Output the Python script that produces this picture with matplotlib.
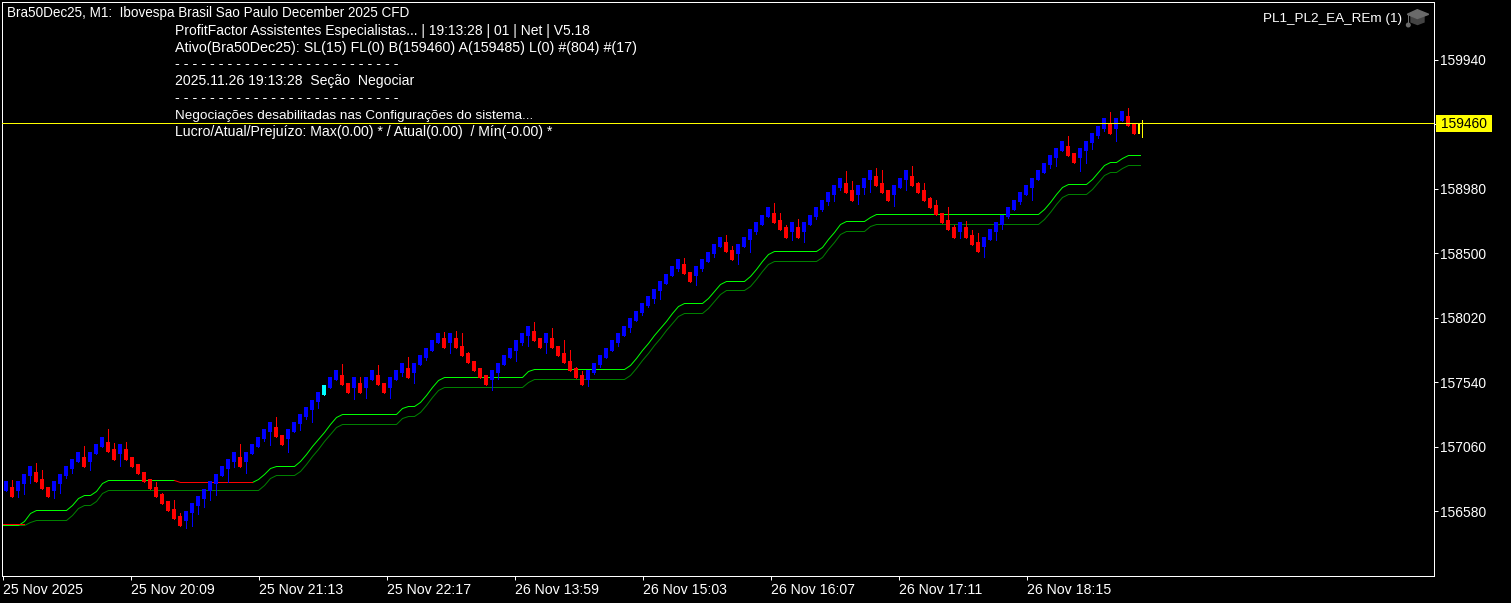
import numpy as np
import matplotlib
matplotlib.use('Agg')
import matplotlib.pyplot as plt
from matplotlib.patches import Polygon, Rectangle, Circle

nan = float('nan')

opens = [
    156732, 156760, 156732, 156785, 156844, 156874, 156819, 156760, 156732, 156785,
    156844, 156896, 156951, 156983, 156951, 157008, 157060, 157097, 157043, 157008,
    157043, 156983, 156933, 156874, 156819, 156760, 156710, 156656, 156598, 156546,
    156509, 156566, 156621, 156670, 156730, 156785, 156844, 156896, 156948, 156983,
    156948, 157008, 157060, 157120, 157172, 157206, 157149, 157120, 157172, 157231,
    157281, 157335, 157395, 157447, 157501, 157559, 157596, 157536, 157501, 157536,
    157501, 157559, 157596, 157536, 157501, 157559, 157611, 157648, 157611, 157670,
    157722, 157778, 157834, 157871, 157834, 157871, 157812, 157760, 157700, 157648,
    157596, 157559, 157611, 157670, 157722, 157778, 157834, 157886, 157923, 157871,
    157834, 157871, 157812, 157760, 157700, 157648, 157596, 157559, 157611, 157670,
    157722, 157778, 157834, 157886, 157946, 157998, 158057, 158109, 158161, 158221,
    158273, 158329, 158385, 158422, 158362, 158329, 158385, 158437, 158496, 158548,
    158586, 158526, 158496, 158548, 158604, 158660, 158712, 158772, 158801, 158749,
    158697, 158660, 158697, 158660, 158712, 158772, 158824, 158880, 158935, 158987,
    159025, 158973, 158935, 158987, 159047, 159077, 159025, 158973, 158935, 158987,
    159047, 159077, 159025, 158973, 158913, 158861, 158801, 158749, 158697, 158660,
    158697, 158638, 158586, 158548, 158604, 158660, 158712, 158772, 158824, 158880,
    158935, 158987, 159047, 159099, 159155, 159211, 159263, 159300, 159248, 159211,
    159263, 159322, 159374, 159430, 159464, 159430, 159486, 159523, 159464, 159389,
]
closes = [
    156804, 156688, 156804, 156859, 156918, 156799, 156747, 156688, 156804, 156859,
    156918, 156968, 157023, 156911, 157023, 157082, 157132, 157023, 156963, 157082,
    156963, 156911, 156859, 156799, 156747, 156688, 156636, 156584, 156524, 156472,
    156584, 156641, 156695, 156745, 156804, 156859, 156918, 156968, 157023, 156911,
    157023, 157082, 157132, 157191, 157244, 157134, 157075, 157191, 157246, 157305,
    157355, 157410, 157469, 157521, 157578, 157633, 157518, 157462, 157578, 157462,
    157578, 157633, 157518, 157462, 157578, 157633, 157685, 157573, 157685, 157745,
    157797, 157856, 157908, 157793, 157908, 157793, 157737, 157685, 157626, 157573,
    157518, 157633, 157685, 157745, 157797, 157856, 157908, 157960, 157849, 157793,
    157908, 157793, 157737, 157685, 157626, 157573, 157518, 157633, 157685, 157745,
    157797, 157856, 157908, 157960, 158020, 158072, 158132, 158184, 158236, 158295,
    158347, 158407, 158459, 158344, 158288, 158407, 158459, 158511, 158571, 158623,
    158511, 158452, 158571, 158623, 158682, 158734, 158787, 158846, 158727, 158675,
    158619, 158734, 158619, 158734, 158787, 158846, 158898, 158958, 159010, 159062,
    158950, 158894, 159010, 159062, 159121, 159002, 158950, 158894, 159010, 159062,
    159121, 159002, 158950, 158894, 158838, 158786, 158727, 158675, 158619, 158734,
    158619, 158563, 158511, 158623, 158682, 158734, 158786, 158846, 158898, 158958,
    159010, 159062, 159121, 159173, 159233, 159285, 159337, 159226, 159170, 159285,
    159337, 159397, 159449, 159508, 159389, 159508, 159560, 159449, 159389, 159460,
]
highs = [
    156804, 156814, 156804, 156859, 156918, 156938, 156889, 156760, 156804, 156859,
    156918, 156968, 157023, 157067, 157023, 157082, 157132, 157194, 157090, 157082,
    157097, 156983, 156933, 156874, 156819, 156799, 156718, 156656, 156665, 156569,
    156584, 156641, 156695, 156745, 156804, 156859, 156918, 156968, 157023, 157082,
    157023, 157082, 157132, 157191, 157244, 157283, 157149, 157191, 157246, 157305,
    157355, 157410, 157469, 157521, 157578, 157633, 157678, 157536, 157578, 157581,
    157578, 157633, 157670, 157536, 157578, 157633, 157685, 157730, 157685, 157745,
    157797, 157856, 157908, 157916, 157908, 157923, 157908, 157767, 157700, 157648,
    157596, 157633, 157685, 157745, 157797, 157856, 157908, 157960, 157990, 157871,
    157908, 157946, 157812, 157856, 157782, 157655, 157626, 157633, 157685, 157745,
    157797, 157856, 157908, 157960, 158020, 158072, 158132, 158184, 158236, 158295,
    158347, 158407, 158459, 158466, 158362, 158407, 158459, 158511, 158571, 158623,
    158638, 158556, 158571, 158623, 158682, 158734, 158787, 158846, 158876, 158801,
    158712, 158734, 158757, 158734, 158787, 158846, 158898, 158958, 159010, 159062,
    159114, 159040, 159010, 159062, 159121, 159136, 159121, 158973, 159010, 159062,
    159121, 159151, 159032, 159025, 158920, 158898, 158801, 158846, 158712, 158734,
    158742, 158675, 158652, 158623, 158682, 158734, 158786, 158846, 158898, 158958,
    159010, 159062, 159121, 159173, 159233, 159285, 159337, 159374, 159248, 159285,
    159337, 159397, 159449, 159508, 159553, 159508, 159560, 159583, 159464, 159494,
]
lows = [
    156732, 156688, 156685, 156710, 156790, 156799, 156747, 156688, 156680, 156718,
    156829, 156864, 156951, 156911, 156889, 157008, 157060, 157023, 156963, 156918,
    156963, 156911, 156859, 156799, 156747, 156688, 156636, 156584, 156524, 156472,
    156457, 156472, 156561, 156613, 156665, 156703, 156844, 156799, 156911, 156911,
    156866, 157008, 157060, 157102, 157075, 157134, 157075, 157023, 157172, 157186,
    157268, 157246, 157350, 157447, 157501, 157559, 157518, 157462, 157417, 157462,
    157425, 157559, 157518, 157462, 157425, 157559, 157588, 157573, 157536, 157670,
    157707, 157778, 157834, 157793, 157760, 157793, 157737, 157685, 157626, 157573,
    157518, 157484, 157566, 157670, 157722, 157700, 157819, 157812, 157849, 157793,
    157760, 157793, 157737, 157685, 157626, 157573, 157518, 157514, 157603, 157655,
    157722, 157778, 157812, 157886, 157916, 157998, 158042, 158102, 158132, 158161,
    158273, 158329, 158370, 158344, 158288, 158265, 158370, 158437, 158474, 158548,
    158511, 158452, 158422, 158548, 158511, 158645, 158712, 158772, 158727, 158675,
    158619, 158600, 158619, 158586, 158712, 158757, 158816, 158861, 158891, 158973,
    158950, 158894, 158868, 158943, 158958, 159002, 158950, 158894, 158853, 158987,
    158973, 159002, 158950, 158894, 158838, 158786, 158727, 158675, 158619, 158615,
    158619, 158563, 158511, 158474, 158604, 158600, 158682, 158764, 158824, 158868,
    158935, 158898, 159047, 159099, 159136, 159151, 159263, 159226, 159170, 159114,
    159171, 159278, 159360, 159412, 159389, 159337, 159486, 159449, 159389, 159367,
]

# stop lines, starting one bar left of the first candle (cut off by the frame)
upper_stop = [
    156477, 156477, 156477, 156477, 156509, 156569, 156589, 156589, 156589, 156589,
    156589, 156589, 156626, 156682, 156700, 156700, 156732, 156792, 156812, 156812,
    156812, 156812, 156812, 156812, 156812, 156812, 156812, 156812, 156812, 156812,
    nan, nan, nan, nan, nan, nan, nan, nan, nan, nan, nan, nan,
    156797, 156822, 156859, 156904, 156916, 156916, 156916, 156916,
    156953, 157009, 157064, 157119, 157175, 157230, 157285,
    157303, 157303, 157303, 157303, 157303, 157303, 157303, 157303, 157303, 157303,
    157350, 157363, 157363, 157393, 157449, 157504, 157560,
    157579, 157579, 157579, 157579, 157579, 157579, 157579, 157579, 157579, 157579,
    157579, 157579, 157579, 157579, 157622,
    157638, 157638, 157638, 157638, 157638, 157638, 157638, 157638, 157638, 157638,
    157638, 157638, 157638, 157638, 157638, 157638,
    157669, 157724, 157779, 157835, 157890, 157946, 158001, 158056, 158111,
    158129, 158129, 158129, 158129, 158166, 158221, 158275,
    158293, 158293, 158293, 158293, 158330, 158386, 158442, 158498,
    158516, 158516, 158516, 158516, 158516, 158516, 158516, 158516,
    158548, 158606, 158663, 158720, 158740, 158740, 158740, 158740, 158775,
    158792, 158792, 158792, 158792, 158792, 158792, 158792, 158792, 158792, 158792,
    158792, 158792, 158792, 158792, 158792, 158792, 158792, 158792, 158792, 158792,
    158792, 158792, 158792, 158792, 158792, 158792, 158792, 158792,
    158829, 158885, 158941, 158996, 159015, 159015, 159015, 159015,
    159051, 159106, 159161, 159179, 159179, 159211, 159231, 159231, 159231,
]
lower_stop = [
    156477, 156477, 156477, 156477, 156477, 156503, 156514, 156514, 156514, 156514,
    156514, 156514, 156552, 156607, 156626, 156626, 156658, 156718,
    156738, 156738, 156738, 156738, 156738, 156738, 156738, 156738, 156738, 156738,
    156738, 156738, 156738, 156738, 156738, 156738, 156738, 156738, 156738, 156738,
    156738, 156738, 156738, 156738, 156738, 156738,
    156775, 156830, 156849, 156849, 156849, 156849,
    156883, 156935, 156990, 157045, 157101, 157156, 157211,
    157229, 157229, 157229, 157229, 157229, 157229, 157229, 157229, 157229, 157229,
    157276, 157288, 157288, 157319, 157375, 157430, 157486,
    157504, 157504, 157504, 157504, 157504, 157504, 157504, 157504, 157504, 157504,
    157504, 157504, 157504, 157504, 157547,
    157564, 157564, 157564, 157564, 157564, 157564, 157564, 157564, 157564, 157564,
    157564, 157564, 157564, 157564, 157564, 157564,
    157595, 157650, 157705, 157761, 157816, 157872, 157927, 157982, 158037,
    158055, 158055, 158055, 158055, 158092, 158147, 158201,
    158226, 158226, 158226, 158226, 158256, 158312, 158368, 158424,
    158442, 158442, 158442, 158442, 158442, 158442, 158442, 158442,
    158474, 158532, 158589, 158646, 158665, 158665, 158665, 158665, 158701,
    158717, 158717, 158717, 158717, 158717, 158717, 158717, 158717, 158717, 158717,
    158717, 158717, 158717, 158717, 158717, 158717, 158717, 158717, 158717, 158717,
    158717, 158717, 158717, 158717, 158717, 158717, 158717, 158717,
    158755, 158811, 158867, 158922, 158941, 158941, 158941, 158941,
    158977, 159032, 159087, 159104, 159104, 159137, 159156, 159156, 159156,
]

# red parts of the upper stop line: first bar of each run, then its values
red_run_1_start = -1
red_run_1 = [156485, 156485, 156485, 156485, 156485]
red_run_2_start = 28
red_run_2 = [156812, 156803, 156797, 156797, 156797, 156797, 156797, 156797,
             156797, 156797, 156797, 156797, 156797, 156797]

special_bars = {53: '#00ffff', 189: '#ffff00'}
bid = 159460
price_ticks = [159940, 158980, 158500, 158020, 157540, 157060, 156580]
time_labels = ['25 Nov 2025', '25 Nov 20:09', '25 Nov 21:13', '25 Nov 22:17', '26 Nov 13:59',
               '26 Nov 15:03', '26 Nov 16:07', '26 Nov 17:11', '26 Nov 18:15']
info_lines = [
    'ProfitFactor Assistentes Especialistas... | 19:13:28 | 01 | Net | V5.18',
    'Ativo(Bra50Dec25): SL(15) FL(0) B(159460) A(159485) L(0) #(804) #(17)',
    '- - - - - - - - - - - - - - - - - - - - - - - - - -',
    '2025.11.26 19:13:28  Seção  Negociar',
    '- - - - - - - - - - - - - - - - - - - - - - - - - -',
    'Negociações desabilitadas nas Configurações do sistema...',
    'Lucro/Atual/Prejuízo: Max(0.00) * / Atual(0.00)  / Mín(-0.00) *',
]
title = 'Bra50Dec25, M1:  Ibovespa Brasil Sao Paulo December 2025 CFD'

W, H = 1511, 603
PX = 0.72  # one pixel in points at dpi 100
plt.rcParams['font.family'] = ['Liberation Sans', 'DejaVu Sans']
FONT = 9.9
# each line sized to its width on the original
info_sizes = [9.97, 10.25, 10.4, 10.1, 10.4, 9.7, 10.2]

fig = plt.figure(figsize=(W / 100, H / 100), dpi=100, facecolor='black')
left, right, top, bottom = 2, 1433.5, 2, 576
ax = fig.add_axes([left / W, 1 - bottom / H, (right - left) / W, (bottom - top) / H], facecolor='black')

# px = 6 + 6 * bar, price = 160386.5 - 7.442 * py
ax.set_xlim((left - 6) / 6, (right - 6) / 6)
ax.set_ylim(160386.5 - 7.442 * bottom, 160386.5 - 7.442 * top)

# stops, snapped to whole pixels so the flats stay one row thick
line_style = dict(lw=PX, snap=True, zorder=2)
stop_x = np.arange(len(upper_stop)) - 1
ax.plot(np.arange(len(lower_stop)) - 1, lower_stop, color='#008000', **line_style)
ax.plot(stop_x, upper_stop, color='#00ff00', **line_style)
for start, run in [(red_run_1_start, red_run_1), (red_run_2_start, red_run_2)]:
    ax.plot(np.arange(len(run)) + start, run, color='#ff0000', **line_style)

# candles
for i in range(len(opens)):
    col = special_bars.get(i, '#0000ff' if closes[i] >= opens[i] else '#ff0000')
    if i == 189:
        # the live bar is drawn as a narrow body with the wick set off to its right
        ax.bar(i - 0.17, abs(closes[i] - opens[i]), bottom=min(opens[i], closes[i]), width=0.33,
               color=col, linewidth=0, zorder=3)
        ax.vlines(i + 0.25, lows[i], highs[i], color=col, lw=PX, antialiased=False, zorder=3)
        continue
    ax.vlines(i + 0.08, lows[i], highs[i], color=col, lw=PX, antialiased=False, zorder=3)
    ax.bar(i, abs(closes[i] - opens[i]), bottom=min(opens[i], closes[i]), width=0.75,
           color=col, linewidth=0, zorder=3)

# bid line sits a pixel above its tick on the original
ax.axhline(bid + 12, color='#ffff00', lw=PX, antialiased=False, snap=True, zorder=4)

for s in ax.spines.values():
    s.set_color('white')
    s.set_linewidth(PX)

ax.yaxis.tick_right()
ax.set_yticks(price_ticks + [bid])
ax.set_yticklabels([str(p) for p in price_ticks] + [''], fontsize=FONT, color='white')
ax.tick_params(axis='y', length=3, width=PX, color='white', pad=1.5)

tick_bars = [(3 + 128 * k - 6) / 6 for k in range(len(time_labels))]
ax.set_xticks(tick_bars)
ax.set_xticklabels(time_labels, fontsize=10.2, color='white', ha='left')
ax.tick_params(axis='x', length=3, width=PX, color='white', pad=2)

# everything else goes on a pixel overlay
ov = fig.add_axes([0, 0, 1, 1], facecolor='none')
ov.set_xlim(0, W)
ov.set_ylim(H, 0)
ov.axis('off')

ov.text(7, 13, title, color='white', fontsize=9.72, va='center', ha='left')
for y, line, size in zip([31, 48, 64, 81, 98, 115.5, 132], info_lines, info_sizes):
    ov.text(175, y, line, color='white', fontsize=size, va='center', ha='left')
ov.text(1402, 19, 'PL1_PL2_EA_REm (1)', color='white', fontsize=9.7, va='center', ha='right')

# price label
ov.add_patch(Rectangle((1436, 115), 56, 17, facecolor='#ffff00', edgecolor='none'))
ov.text(1441, 123.5, str(bid), color='black', fontsize=FONT, va='center', ha='left')

# hat icon
ov.add_patch(Polygon([(1411, 16), (1424, 16), (1424, 22), (1417.5, 24.5), (1411, 22)], color='#444444'))
ov.add_patch(Polygon([(1407.3, 14.3), (1417.3, 9.7), (1428.7, 14.3), (1417.3, 18.5)], color='#6a6a6a'))
ov.plot([1408.3, 1408.3], [15, 24], color='#6a6a6a', lw=PX)
ov.add_patch(Circle((1408.3, 25), 1.8, color='#6a6a6a'))

fig.savefig('out.png', dpi=100, facecolor='black')
